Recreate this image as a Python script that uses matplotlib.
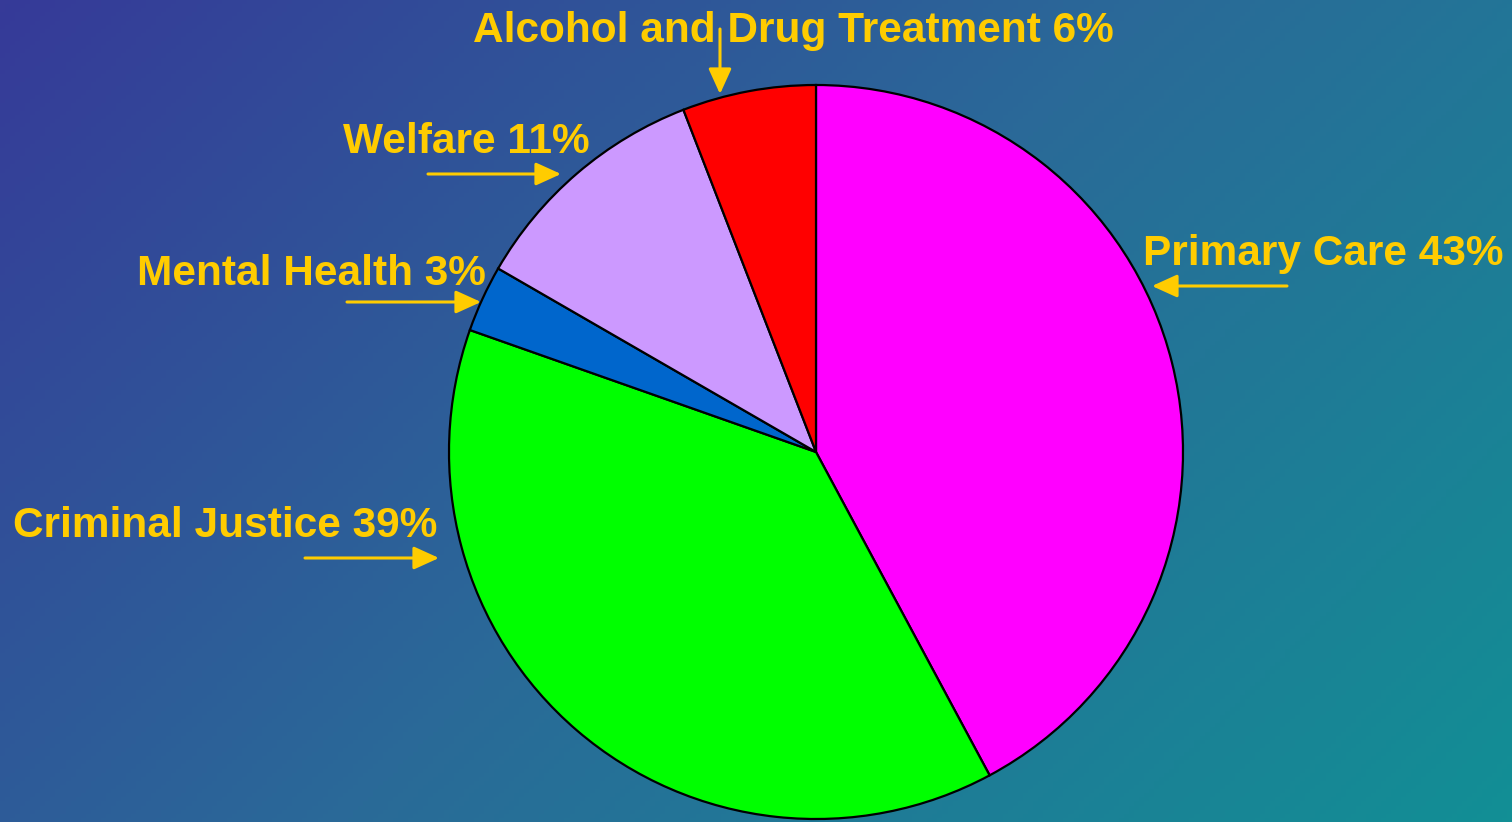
import numpy as np
import matplotlib
matplotlib.use("Agg")
from matplotlib import pyplot as plt
from matplotlib.colors import LinearSegmentedColormap

W, H = 1512, 822

# Slice data, clockwise from 12 o'clock
labels = ["Primary Care", "Criminal Justice", "Mental Health", "Welfare",
          "Alcohol and Drug Treatment"]
values = [43, 39, 3, 11, 6]
colors = ["#ff00ff", "#00ff00", "#0066cc", "#cc99ff", "#ff0000"]

# label placement (pixel coords, y measured from top): text left/baseline, arrow tail, arrow head
label_pos = {
    "Primary Care": ((1143, 265), (1287, 286), (1152, 286)),
    "Criminal Justice": ((13, 537), (305, 558), (439, 558)),
    "Mental Health": ((137, 285), (347, 302), (481, 302)),
    "Welfare": ((343, 153), (428, 174), (561, 174)),
    "Alcohol and Drug Treatment": ((473, 42), (720, 29), (720, 94)),
}

TEXT_COLOR = "#ffcc00"

fig = plt.figure(figsize=(W / 100, H / 100), dpi=100)
ax = fig.add_axes([0, 0, 1, 1])

# diagonal gradient background, dark blue top-left -> teal bottom-right
cmap = LinearSegmentedColormap.from_list("bg", ["#363a98", "#2a6a98", "#128f95"])
xx, yy = np.meshgrid(np.linspace(0, 1, 300), np.linspace(0, 1, 200))
grad = (xx * W + yy * H) / (W + H)
ax.imshow(grad, cmap=cmap, extent=[0, W, 0, H], origin="upper", zorder=0, aspect="auto")

# pie
ax.pie(values, colors=colors, startangle=90, counterclock=False,
       center=(816, H - 452), radius=367,
       wedgeprops=dict(edgecolor="black", linewidth=1.6), frame=True)
ax.set_xlim(0, W)
ax.set_ylim(0, H)
ax.set_aspect("equal")
ax.axis("off")

for lab, val in zip(labels, values):
    (tx, ty), (ax0, ay0), (ax1, ay1) = label_pos[lab]
    ax.text(tx, H - ty, f"{lab} {val}%", color=TEXT_COLOR, fontsize=30.5,
            fontweight="bold", family="Liberation Sans", ha="left", va="baseline",
            zorder=5)
    ax.annotate("", xy=(ax1, H - ay1), xytext=(ax0, H - ay0),
                arrowprops=dict(arrowstyle="-|>,head_length=0.55,head_width=0.25",
                                color=TEXT_COLOR, lw=2.2,
                                mutation_scale=28, shrinkA=0, shrinkB=0),
                zorder=6)

fig.savefig("out.png", dpi=100)
